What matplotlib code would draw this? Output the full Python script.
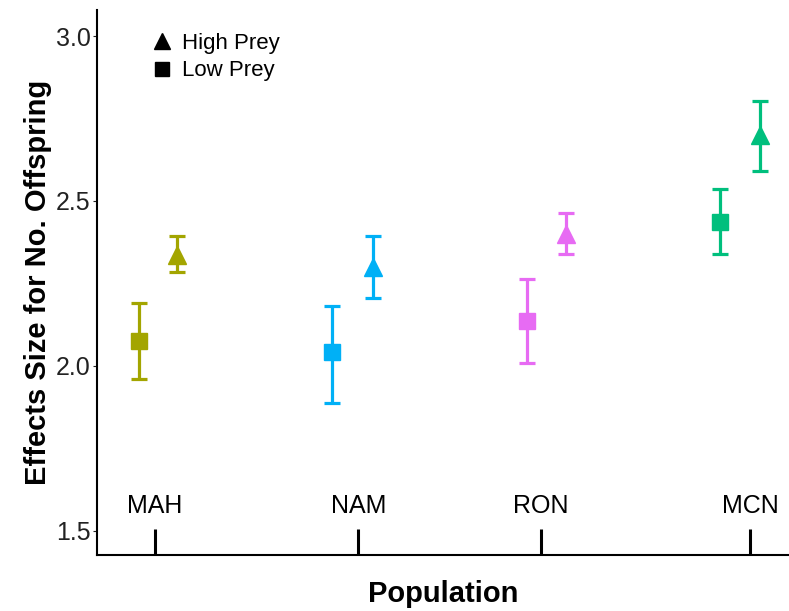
import numpy as np
import matplotlib.pyplot as plt
from matplotlib.lines import Line2D

plt.rcParams['font.family'] = ['Liberation Sans', 'DejaVu Sans']

populations = ["MAH", "NAM", "RON", "MCN"]
pop_pos = [1.0, 2.0, 2.90, 3.93]
colors = ["#A3A500", "#00B0F6", "#E76BF3", "#00BF7D"]

# low prey (squares)
low_dodge = [-0.08, -0.13, -0.07, -0.15]
low_mean = [2.076, 2.042, 2.136, 2.436]
low_lo = [1.961, 1.888, 2.009, 2.339]
low_hi = [2.191, 2.182, 2.264, 2.536]

# high prey (triangles)
high_dodge = [0.11, 0.07, 0.12, 0.045]
high_mean = [2.336, 2.30, 2.40, 2.70]
high_lo = [2.285, 2.206, 2.339, 2.591]
high_hi = [2.394, 2.394, 2.464, 2.803]

fig = plt.figure(figsize=(7.89, 6.11), dpi=100)
ax = fig.add_axes([0.123, 0.0917, 0.877, 0.892])


def draw_series(dodge, mean, lo, hi, marker, ms):
    for i in range(len(populations)):
        x = pop_pos[i] + dodge[i]
        err = [[mean[i] - lo[i]], [hi[i] - mean[i]]]
        ax.errorbar([x], [mean[i]], yerr=err, fmt=marker, color=colors[i],
                    ms=ms, elinewidth=2.3, capsize=6, capthick=2.3, zorder=3)


draw_series(low_dodge, low_mean, low_lo, low_hi, "s", 11)
draw_series(high_dodge, high_mean, high_lo, high_hi, "^", 12.5)

ax.set_xlim(0.714, 4.12)
ax.set_ylim(1.427, 3.079)
ax.set_yticks([1.5, 2.0, 2.5, 3.0])
ax.set_yticklabels(["1.5", "2.0", "2.5", "3.0"])
ax.tick_params(axis="y", labelsize=18, length=3, width=0.8, pad=1.5,
               colors="#222222")

ax.set_xticks(pop_pos)
ax.set_xticklabels(populations)
ax.tick_params(axis="x", direction="in", length=19, width=2.2, pad=-44,
               labelsize=18)

for side in ["top", "right"]:
    ax.spines[side].set_visible(False)
for side in ["left", "bottom"]:
    ax.spines[side].set_linewidth(1.5)

ax.set_ylabel("Effects Size for No. Offspring", fontsize=21, fontweight="bold", labelpad=3)
ax.set_xlabel("Population", fontsize=21, fontweight="bold", labelpad=18)

handles = [Line2D([], [], marker="^", color="black", ls="", ms=11),
           Line2D([], [], marker="s", color="black", ls="", ms=10)]
ax.legend(handles, ["High Prey", "Low Prey"], loc="upper left", frameon=False,
          fontsize=16, bbox_to_anchor=(0.045, 0.995), handletextpad=0.3,
          labelspacing=0.3, handlelength=1.2)

fig.savefig("out.png", dpi=100)
